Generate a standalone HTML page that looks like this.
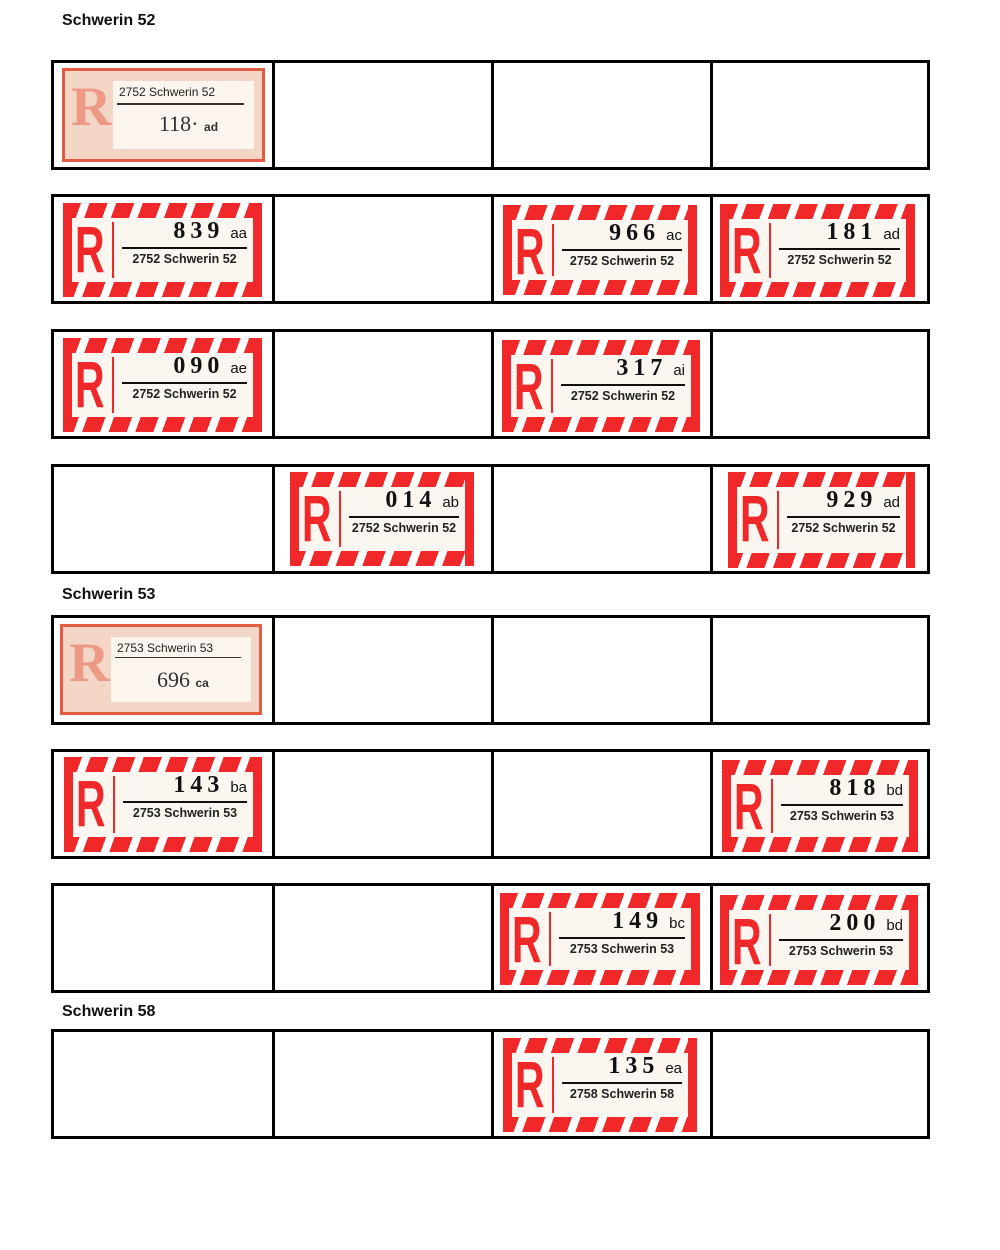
<!DOCTYPE html>
<html><head><style>
body{margin:0;background:#fff;width:1000px;height:1250px;position:relative;font-family:"Liberation Sans",sans-serif;overflow:hidden}
.h{position:absolute;left:62px;font-weight:bold;font-size:16px;color:#111}
.row{position:absolute;left:51px;width:879px;height:110px;border:3px solid #000;box-sizing:border-box}
.row .d{position:absolute;top:0;bottom:0;width:3px;background:#000}
.lab{position:absolute;background:repeating-linear-gradient(110deg,#f0282a 0 17px,#fff 17px 25px)}
.lab .sr,.lab .sl{position:absolute;top:0;bottom:0;width:9px;background:#f0282a}
.lab .sl{left:0}.lab .sr{right:0}
.lab .in{position:absolute;left:9px;right:9px;top:15px;bottom:15px;background:#fbf7f0}
.lab .R{position:absolute;left:3px;top:-6px;font-family:"Liberation Sans",sans-serif;font-weight:bold;font-size:66px;color:#f0282a;line-height:74px;transform:scaleX(.62);transform-origin:left}
.lab .v{position:absolute;left:40px;top:4px;bottom:4px;width:2px;background:#f0282a}
.lab .n{position:absolute;right:6px;top:0;font-family:"Liberation Serif",serif;font-weight:bold;font-size:24px;letter-spacing:5px;color:#111;line-height:26px}
.lab .n small{font-family:"Liberation Sans",sans-serif;font-weight:normal;font-size:15px;letter-spacing:0;margin-left:6px}
.lab .ln{position:absolute;left:50px;right:6px;top:29px;height:2px;background:#111}
.lab .c{position:absolute;left:50px;right:6px;top:34px;text-align:center;font-size:12.5px;font-weight:bold;color:#222}
.old{position:absolute;background:#f3d6c6;border:3px solid #e35b40;box-sizing:border-box}
.old .in{position:absolute;left:48px;right:8px;top:10px;bottom:10px;background:#fdf6ee}
.old .R{position:absolute;left:6px;top:4px;font-family:"Liberation Serif",serif;font-weight:bold;font-size:56px;color:#ec9a85}
.old .c{position:absolute;left:6px;top:4px;font-size:12px;color:#222}
.old .ln{position:absolute;left:4px;right:10px;top:22px;height:2px;background:#333}
.old .n{position:absolute;left:46px;top:30px;font-family:"Liberation Serif",serif;font-size:22px;color:#333}
.old .n small{font-family:"Liberation Sans",sans-serif;font-size:12px;font-weight:bold}
</style></head><body>
<div class="h" style="top:12px">Schwerin 52</div>
<div class="h" style="top:586px">Schwerin 53</div>
<div class="h" style="top:1003px">Schwerin 58</div>

<div class="row" style="top:60px"><div class="d" style="left:218px"></div><div class="d" style="left:437px"></div><div class="d" style="left:656px"></div></div>
<div class="row" style="top:194px"><div class="d" style="left:218px"></div><div class="d" style="left:437px"></div><div class="d" style="left:656px"></div></div>
<div class="row" style="top:329px"><div class="d" style="left:218px"></div><div class="d" style="left:437px"></div><div class="d" style="left:656px"></div></div>
<div class="row" style="top:464px"><div class="d" style="left:218px"></div><div class="d" style="left:437px"></div><div class="d" style="left:656px"></div></div>
<div class="row" style="top:615px"><div class="d" style="left:218px"></div><div class="d" style="left:437px"></div><div class="d" style="left:656px"></div></div>
<div class="row" style="top:749px"><div class="d" style="left:218px"></div><div class="d" style="left:437px"></div><div class="d" style="left:656px"></div></div>
<div class="row" style="top:883px"><div class="d" style="left:218px"></div><div class="d" style="left:437px"></div><div class="d" style="left:656px"></div></div>
<div class="row" style="top:1029px"><div class="d" style="left:218px"></div><div class="d" style="left:437px"></div><div class="d" style="left:656px"></div></div>

<div class="old" style="left:62px;top:68px;width:203px;height:94px"><div class="R">R</div><div class="in"><div class="c">2752 Schwerin 52</div><div class="ln"></div><div class="n">118· <small>ad</small></div></div></div>
<div class="old" style="left:60px;top:624px;width:202px;height:91px"><div class="R">R</div><div class="in"><div class="c">2753 Schwerin 53</div><div class="ln" style="top:20px;height:1px"></div><div class="n">696 <small>ca</small></div></div></div>

<div class="lab" style="left:63px;top:203px;width:199px;height:94px"><div class="sl"></div><div class="sr"></div><div class="in"><div class="R">R</div><div class="v"></div><div class="n">839<small>aa</small></div><div class="ln"></div><div class="c">2752 Schwerin 52</div></div></div>
<div class="lab" style="left:503px;top:205px;width:194px;height:90px"><div class="sl"></div><div class="sr"></div><div class="in"><div class="R">R</div><div class="v"></div><div class="n">966<small>ac</small></div><div class="ln"></div><div class="c">2752 Schwerin 52</div></div></div>
<div class="lab" style="left:720px;top:204px;width:195px;height:93px"><div class="sl"></div><div class="sr"></div><div class="in"><div class="R">R</div><div class="v"></div><div class="n">181<small>ad</small></div><div class="ln"></div><div class="c">2752 Schwerin 52</div></div></div>
<div class="lab" style="left:63px;top:338px;width:199px;height:94px"><div class="sl"></div><div class="sr"></div><div class="in"><div class="R">R</div><div class="v"></div><div class="n">090<small>ae</small></div><div class="ln"></div><div class="c">2752 Schwerin 52</div></div></div>
<div class="lab" style="left:502px;top:340px;width:198px;height:92px"><div class="sl"></div><div class="sr"></div><div class="in"><div class="R">R</div><div class="v"></div><div class="n">317<small>ai</small></div><div class="ln"></div><div class="c">2752 Schwerin 52</div></div></div>
<div class="lab" style="left:290px;top:472px;width:184px;height:94px"><div class="sl"></div><div class="sr"></div><div class="in"><div class="R">R</div><div class="v"></div><div class="n">014<small>ab</small></div><div class="ln"></div><div class="c">2752 Schwerin 52</div></div></div>
<div class="lab" style="left:728px;top:472px;width:187px;height:96px"><div class="sl"></div><div class="sr"></div><div class="in"><div class="R">R</div><div class="v"></div><div class="n">929<small>ad</small></div><div class="ln"></div><div class="c">2752 Schwerin 52</div></div></div>
<div class="lab" style="left:64px;top:757px;width:198px;height:95px"><div class="sl"></div><div class="sr"></div><div class="in"><div class="R">R</div><div class="v"></div><div class="n">143<small>ba</small></div><div class="ln"></div><div class="c">2753 Schwerin 53</div></div></div>
<div class="lab" style="left:722px;top:760px;width:196px;height:92px"><div class="sl"></div><div class="sr"></div><div class="in"><div class="R">R</div><div class="v"></div><div class="n">818<small>bd</small></div><div class="ln"></div><div class="c">2753 Schwerin 53</div></div></div>
<div class="lab" style="left:500px;top:893px;width:200px;height:92px"><div class="sl"></div><div class="sr"></div><div class="in"><div class="R">R</div><div class="v"></div><div class="n">149<small>bc</small></div><div class="ln"></div><div class="c">2753 Schwerin 53</div></div></div>
<div class="lab" style="left:720px;top:895px;width:198px;height:90px"><div class="sl"></div><div class="sr"></div><div class="in"><div class="R">R</div><div class="v"></div><div class="n">200<small>bd</small></div><div class="ln"></div><div class="c">2753 Schwerin 53</div></div></div>
<div class="lab" style="left:503px;top:1038px;width:194px;height:94px"><div class="sl"></div><div class="sr"></div><div class="in"><div class="R">R</div><div class="v"></div><div class="n">135<small>ea</small></div><div class="ln"></div><div class="c">2758 Schwerin 58</div></div></div>
</body></html>
